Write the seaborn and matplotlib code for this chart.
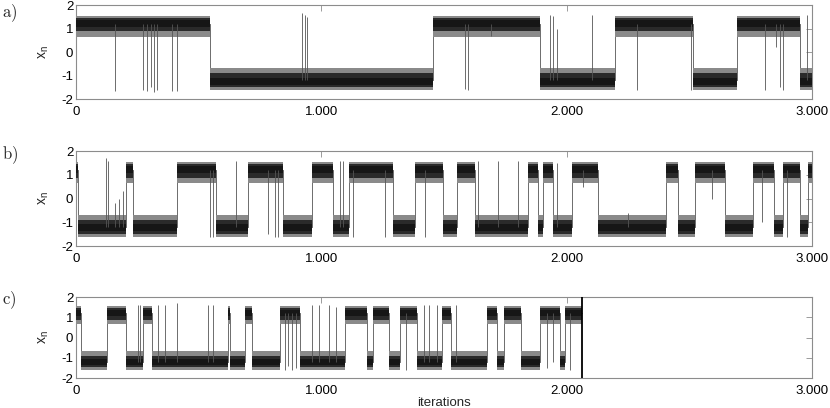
import numpy as np
import pandas as pd
import matplotlib
matplotlib.use("Agg")
import matplotlib.pyplot as plt
import seaborn as sns

# ==========================================================
# Data
# switch times (iterations) and well of each stretch (+1 upper, -1 lower)
# ==========================================================

a_switch = [0, 546, 1455, 1891, 2197, 2515, 2694, 2951, 3000]
a_state = [1, -1, 1, -1, 1, -1, 1, -1]
a_spike_t = [159, 273, 290, 305, 318, 330, 392, 411, 921, 933, 940, 1586, 1598,
             1690, 1932, 1945, 1960, 2103, 2287, 2505, 2808, 2855, 2870, 2882, 2980]
a_spike_y = [-1.65, -1.6, -1.65, -1.5, -1.7, -1.6, -1.65, -1.65, 1.65, 1.6, 1.5, -1.55, -1.6,
             0.7, 1.6, 1.55, 1.0, 1.6, -1.6, -1.6, -1.6, 0.2, -1.5, -1.6, 1.6]

b_switch = [0, 8, 204, 233, 411, 571, 702, 844, 962, 1048, 1113, 1292, 1382, 1496, 1553,
            1626, 1842, 1883, 1903, 1944, 2022, 2128, 2405, 2454, 2523, 2645, 2759, 2845,
            2880, 2951, 2984, 3000]
b_state = [1, -1, 1, -1, 1, -1, 1, -1, 1, -1, 1, -1, 1, -1, 1, -1,
           1, -1, 1, -1, 1, -1, 1, -1, 1, -1, 1, -1, 1, -1, 1]
b_spike_t = [122, 130, 160, 175, 190, 546, 560, 652, 783, 810, 823, 1076, 1088, 1130, 1259,
             1423, 1638, 1720, 1800, 1960, 2067, 2250, 2592, 2796, 2900]
b_spike_y = [1.7, 1.6, -0.2, 0.0, 0.3, -1.6, -1.6, 1.6, -1.5, -1.6, -1.6, 1.6, 1.6, -1.6, -1.6,
             -1.6, 1.6, 1.6, 1.6, 1.5, 0.5, -0.6, 0.0, -1.0, -1.6]

c_switch = [0, 20, 126, 204, 273, 310, 620, 628, 689, 717, 832, 913, 1096, 1186, 1211,
            1276, 1321, 1390, 1492, 1530, 1675, 1718, 1744, 1814, 1891, 1972, 1995, 2062]
c_state = [1, -1, 1, -1, 1, -1, 1, -1, 1, -1, 1, -1, 1, -1,
           1, -1, 1, -1, 1, -1, 1, -1, 1, -1, 1, -1, 1]
c_spike_t = [253, 262, 334, 363, 412, 538, 559, 850, 865, 880, 895, 960, 990, 1030, 1060,
             1345, 1420, 1440, 1470, 1550, 1920, 1945, 2015]
c_spike_y = [1.6, 1.6, 1.6, 1.6, 1.7, 1.6, 1.6, -1.6, -1.4, -1.6, -1.5, 1.6, 1.6, 1.6, 1.5,
             -1.6, 1.6, 1.6, 1.6, 1.6, -1.5, -1.2, -1.6]
c_end = 2062

panel_names = ["a)", "b)", "c)"]
x_ticks = [0, 1000, 2000, 3000]
x_tick_labels = ["0", "1.000", "2.000", "3.000"]
y_ticks = [-2, -1, 0, 1, 2]

# ==========================================================
# Style
# ==========================================================

sns.set_theme(style="white")
plt.rcParams["font.family"] = ["Liberation Sans", "DejaVu Sans"]
plt.rcParams["axes.unicode_minus"] = False
plt.rcParams["hatch.linewidth"] = 0.6

# noise band of each well: outer hairs, denser middle, dark core
outer = {1: (0.65, 1.55), -1: (-1.60, -0.68)}
middle = {1: (0.88, 1.45), -1: (-1.48, -0.90)}
core = {1: (1.08, 1.36), -1: (-1.38, -1.08)}
frame_grey = "#8c8c8c"
trace_grey = "#555555"


def draw_panel(ax, switch, state, spike_t, spike_y):
    rows = []
    for t0, t1, s in zip(switch[:-1], switch[1:], state):
        ax.fill_between([t0, t1], outer[s][0], outer[s][1], facecolor="white",
                        edgecolor="#8a8a8a", hatch="|" * 22, linewidth=0, zorder=2)
        ax.fill_between([t0, t1], middle[s][0], middle[s][1], facecolor="#a8a8a8",
                        edgecolor="#2a2a2a", hatch="|" * 34, linewidth=0, zorder=3)
        ax.fill_between([t0, t1], core[s][0], core[s][1], color="#161616",
                        linewidth=0, zorder=4)
        rows.append({"t": t0, "x": 1.2 * s})
        rows.append({"t": t1, "x": 1.2 * s})
    path = pd.DataFrame(rows)
    sns.lineplot(data=path, x="t", y="x", estimator=None, sort=False,
                 color=trace_grey, linewidth=0.6, ax=ax, zorder=1)
    # brief excursions into the other well
    base = []
    for t in spike_t:
        i = np.searchsorted(switch, t, side="right") - 1
        base.append(1.2 * state[i])
    ax.vlines(spike_t, base, spike_y, color=trace_grey, linewidth=0.6, zorder=5)


fig = plt.figure(figsize=(8.3, 4.08), dpi=100)

boxes = [
    [0.0916, 0.757, 0.8867, 0.2304],
    [0.0916, 0.397, 0.8867, 0.2328],
    [0.0916, 0.0735, 0.8867, 0.1985],
]
label_y = [0.968, 0.620, 0.265]
series = [
    (a_switch, a_state, a_spike_t, a_spike_y),
    (b_switch, b_state, b_spike_t, b_spike_y),
    (c_switch, c_state, c_spike_t, c_spike_y),
]

for k in range(3):
    ax = fig.add_axes(boxes[k])
    draw_panel(ax, *series[k])

    if k == 2:
        ax.vlines([c_end], -2, 2, color="black", linewidth=1.3, zorder=6)

    ax.set_xlim(0, 3000)
    ax.set_ylim(-2, 2)
    ax.set_xticks(x_ticks)
    ax.set_xticklabels(x_tick_labels)
    ax.set_yticks(y_ticks)
    ax.set_yticklabels([str(v) for v in y_ticks])

    ax.tick_params(axis="both", direction="in", length=4, width=0.6, color=frame_grey,
                   top=True, right=True, labelsize=9.5, labelcolor="black")
    ax.tick_params(axis="y", pad=2)
    ax.tick_params(axis="x", pad=5)
    for sp in ax.spines.values():
        sp.set_color(frame_grey)
        sp.set_linewidth(0.8)

    ax.set_ylabel(r"$\mathregular{x_n}$", fontsize=10)
    ax.yaxis.set_label_coords(-0.034, 0.5)
    if k == 2:
        ax.set_xlabel("iterations", fontsize=9.5)
        ax.xaxis.set_label_coords(0.5, -0.235)
    else:
        ax.set_xlabel("")

    fig.text(0.002, label_y[k], r"$\mathrm{" + panel_names[k] + "}$", math_fontfamily="cm",
             fontsize=12, ha="left", va="center")

fig.savefig("out.png", dpi=100)
